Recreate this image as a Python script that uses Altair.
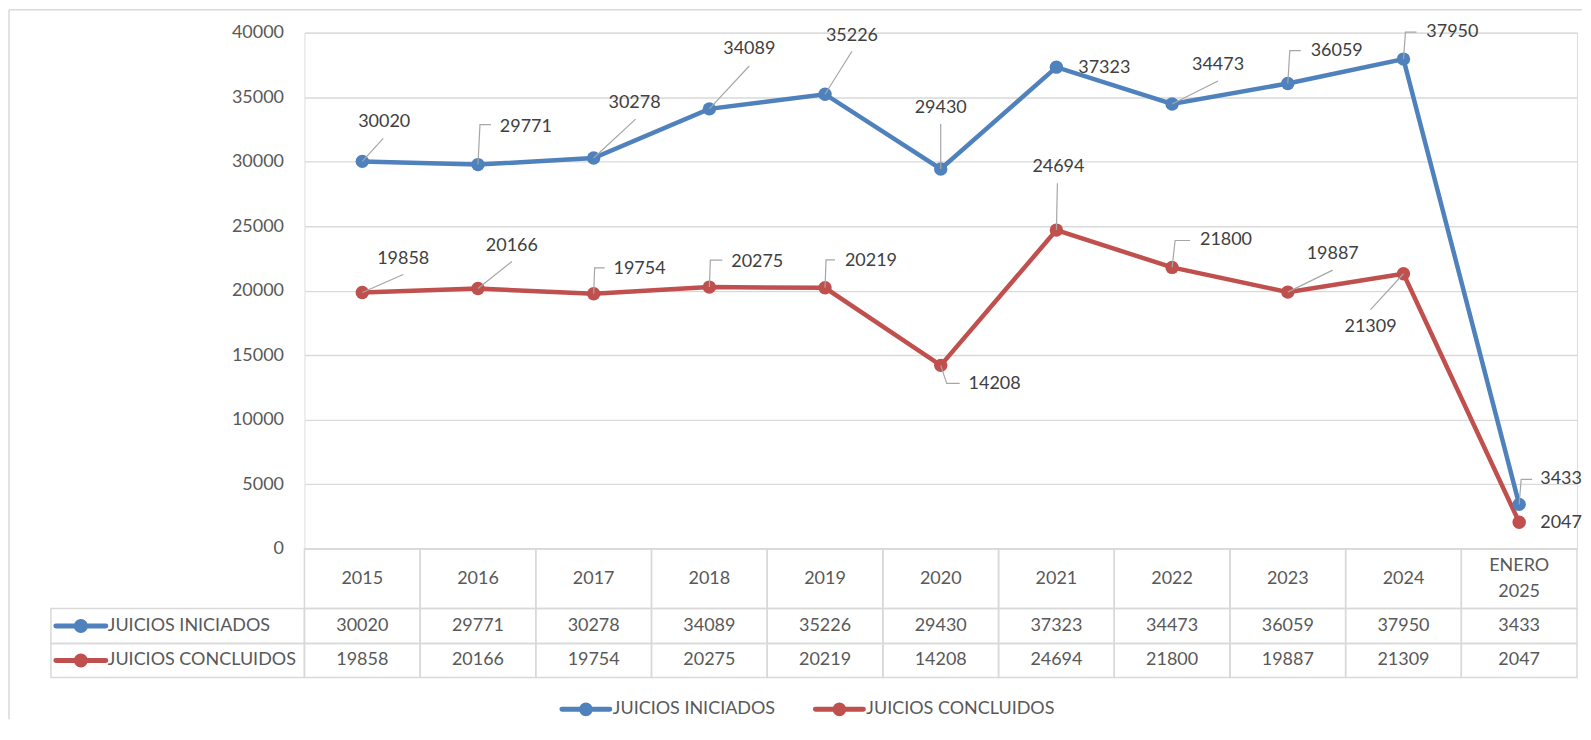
import altair as alt
import pandas as pd

# ---------------- data ----------------
categorias = ["2015", "2016", "2017", "2018", "2019", "2020", "2021", "2022",
              "2023", "2024", "ENERO 2025"]
iniciados = [30020, 29771, 30278, 34089, 35226, 29430, 37323, 34473, 36059, 37950, 3433]
concluidos = [19858, 20166, 19754, 20275, 20219, 14208, 24694, 21800, 19887, 21309, 2047]
series = ["JUICIOS INICIADOS", "JUICIOS CONCLUIDOS"]
y_ticks = [0, 5000, 10000, 15000, 20000, 25000, 30000, 35000, 40000]

# ---------------- styling / layout ----------------
colores = ["#4F81BD", "#C0504D"]
W, H = 1275, 517
YMAX = 40000
FONT = "Lato"
GRID = "#D9D9D9"
TXT = "#595959"

# data-label placement: text offset (px) and leader-line waypoints (px) from the point
lab_ini = [
    ((22, -39), [(21, -23)]),
    ((48, -38), [(2, -40), (13, -40)]),
    ((41, -55), [(42, -39)]),
    ((40, -60), [(40, -43)]),
    ((27, -58), [(27, -43)]),
    ((0, -61), [(0, -45)]),
    ((48, 1), []),
    ((46, -39), [(46, -23)]),
    ((49, -33), [(2, -33), (13, -33)]),
    ((49, -27), [(2, -27), (13, -27)]),
    ((42, -25), [(2, -25), (13, -25)]),
]
lab_con = [
    ((41, -34), [(41, -18)]),
    ((34, -43), [(34, -27)]),
    ((46, -25), [(1, -26), (11, -26)]),
    ((48, -25), [(1, -27), (13, -27)]),
    ((46, -27), [(1, -28), (10, -28)]),
    ((54, 19), [(6, 18), (19, 18)]),
    ((2, -63), [(1, -47)]),
    ((54, -27), [(3, -27), (18, -27)]),
    ((45, -38), [(45, -22)]),
    ((-33, 53), [(-33, 36)]),
    ((42, 1), []),
]

PX_X = len(categorias) / W
PX_Y = YMAX / H

# ---------------- tables for the library ----------------
pts, labs, leads = [], [], []
for s, vals, offs in [(series[0], iniciados, lab_ini), (series[1], concluidos, lab_con)]:
    for i, (c, v) in enumerate(zip(categorias, vals)):
        pts.append({"i": i, "cat": c, "serie": s, "value": v})
        (dx, dy), way = offs[i]
        labs.append({"x": i + dx * PX_X, "y": v - dy * PX_Y, "text": str(v), "serie": s})
        if way:
            lid = f"{s}-{i}"
            leads.append({"id": lid, "k": 0, "x": i, "y": v})
            for k, (wx, wy) in enumerate(way, start=1):
                leads.append({"id": lid, "k": k, "x": i + wx * PX_X, "y": v - wy * PX_Y})
df_pts = pd.DataFrame(pts)
df_lab = pd.DataFrame(labs)
df_lead = pd.DataFrame(leads)
df_tab = pd.DataFrame({
    "i": list(range(len(categorias))),
    "cat": categorias,
    "ini": [str(v) for v in iniciados],
    "con": [str(v) for v in concluidos],
})
df_tab["x0"] = df_tab["i"] - 0.5
df_tab["x1"] = df_tab["i"] + 0.5
df_one = pd.DataFrame({"serie": series})

xs = alt.Scale(domain=[-0.5, len(categorias) - 0.5], nice=False, zero=False)
ys = alt.Scale(domain=[0, YMAX], nice=False)
cs = alt.Scale(domain=series, range=colores)
yaxis = alt.Axis(values=y_ticks, format="d", grid=True, gridColor=GRID, gridWidth=1.3,
                 domain=False, ticks=False, tickSize=0, labelPadding=21, labelFont=FONT,
                 labelFontSize=18, labelColor=TXT, title=None)


def X(f):
    return alt.X(f, type="quantitative", scale=xs, axis=None)


def Y(f):
    return alt.Y(f, type="quantitative", scale=ys, axis=yaxis)


layers = []

# frame (top and left edges of the chart area)
layers.append(alt.Chart(df_one.head(1)).mark_rule(color=GRID, strokeWidth=1.5).encode(
    x=alt.value(-296), x2=alt.value(1280), y=alt.value(-23)))
layers.append(alt.Chart(df_one.head(1)).mark_rule(color=GRID, strokeWidth=1.5).encode(
    x=alt.value(-296), y=alt.value(-23), y2=alt.value(688)))

# gridlines + y axis come with the lines
layers.append(alt.Chart(df_pts).mark_line(strokeWidth=4.5).encode(
    x=X("i"), y=Y("value"), color=alt.Color("serie:N", scale=cs, legend=None)))
layers.append(alt.Chart(df_pts).mark_point(filled=True, size=180, opacity=1).encode(
    x=X("i"), y=Y("value"), color=alt.Color("serie:N", scale=cs, legend=None)))

# leader lines and data labels
layers.append(alt.Chart(df_lead).mark_line(color="#A6A6A6", strokeWidth=1.2).encode(
    x=X("x"), y=Y("y"), detail="id:N", order="k:Q"))
layers.append(alt.Chart(df_lab).mark_text(font=FONT, fontSize=18, color="#404040",
                                          align="center", baseline="middle").encode(
    x=X("x"), y=Y("y"), text="text:N"))

# data table
CELL = dict(fill="transparent", stroke=GRID, strokeWidth=1.5)
rows = [(H, H + 60), (H + 60, H + 95), (H + 95, H + 129)]
hmid = (rows[0][0] + rows[0][1]) / 2
layers.append(alt.Chart(df_tab).mark_rect(**CELL).encode(
    x=X("x0"), x2=alt.X2("x1"), y=alt.value(rows[0][0]), y2=alt.value(rows[0][1])))
layers.append(alt.Chart(df_tab).transform_filter("indexof(datum.cat, ' ') < 0").mark_text(
    font=FONT, fontSize=18, color=TXT, baseline="middle").encode(
    x=X("i"), y=alt.value(hmid), text="cat:N"))
layers.append(alt.Chart(df_tab).transform_filter("indexof(datum.cat, ' ') >= 0").mark_text(
    font=FONT, fontSize=18, color=TXT, lineBreak=" ", lineHeight=26, baseline="middle",
    dy=-13).encode(x=X("i"), y=alt.value(hmid), text="cat:N"))

SYM = ("M-1,0L1,0M0.18,0A0.18,0.18,0,1,1,-0.18,0A0.18,0.18,0,1,1,0.18,0"
       "M0.08,0A0.08,0.08,0,1,1,-0.08,0A0.08,0.08,0,1,1,0.08,0")

# bottom legend positions (symbol centre x, text x) and row of the legend
legend_pos = [(282, 309), (536, 563)]
LEG_Y = 678

for r, (s, col, field) in enumerate([(series[0], colores[0], "ini"), (series[1], colores[1], "con")]):
    top, bot = rows[r + 1]
    mid = (top + bot) / 2
    layers.append(alt.Chart(df_tab).mark_rect(**CELL).encode(
        x=X("x0"), x2=alt.X2("x1"), y=alt.value(top), y2=alt.value(bot)))
    layers.append(alt.Chart(df_tab).mark_text(font=FONT, fontSize=18, color=TXT,
                                              baseline="middle").encode(
        x=X("i"), y=alt.value(mid), text=f"{field}:N"))
    one = alt.Chart(df_one).transform_filter(alt.datum.serie == s)
    layers.append(one.mark_rect(**CELL).encode(
        x=alt.value(-254), x2=alt.value(0), y=alt.value(top), y2=alt.value(bot)))
    for sx, tx, yy, sz in [(-224, -197, mid, 2500),
                           (legend_pos[r][0], legend_pos[r][1], LEG_Y, 2304)]:
        layers.append(one.mark_point(shape=SYM, size=sz, filled=False, strokeWidth=5,
                                     strokeCap="round", color=col, opacity=1).encode(
            x=alt.value(sx), y=alt.value(yy)))
        layers.append(one.mark_text(font=FONT, fontSize=18, color=TXT, align="left",
                                    baseline="middle").encode(
            x=alt.value(tx), y=alt.value(yy), text="serie:N"))

chart = alt.layer(*layers).properties(width=W, height=H, padding=0).configure_view(
    stroke=None).configure(background="white")

chart.save("out.html", embed_options={"renderer": "svg", "actions": False})
